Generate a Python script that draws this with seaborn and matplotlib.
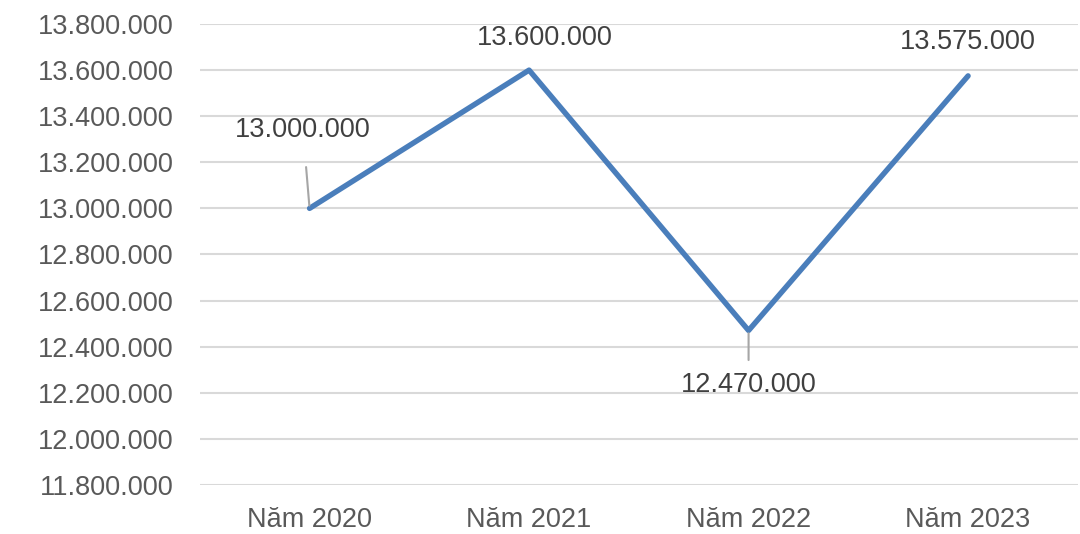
import pandas as pd
import matplotlib
matplotlib.use("Agg")
import matplotlib.pyplot as plt
from matplotlib.ticker import FuncFormatter, MultipleLocator
import seaborn as sns

years = ["Năm 2020", "Năm 2021", "Năm 2022", "Năm 2023"]
values = [13000000, 13600000, 12470000, 13575000]


def dot_fmt(v, pos=None):
    return f"{int(round(v)):,}".replace(",", ".")


sns.set_theme(style="white")
plt.rcParams["font.family"] = ["Liberation Sans", "DejaVu Sans"]

df = pd.DataFrame({"year": years, "value": values})

fig = plt.figure(figsize=(10.8, 5.34), dpi=100)
ax = fig.add_axes([0.185, 0.092, 0.813, 0.863])

ax.yaxis.set_major_locator(MultipleLocator(200000))
ax.grid(axis="y", color="#d9d9d9", linewidth=1.5)
ax.set_axisbelow(True)

sns.lineplot(data=df, x="year", y="value", ax=ax, color="#4a7ebb",
             linewidth=3.9, sort=False)
for ln in ax.lines:
    ln.set_solid_joinstyle("round")
    ln.set_solid_capstyle("round")

ax.set_xlim(-0.5, 3.5)
ax.set_ylim(11800000, 13800000)
ax.yaxis.set_major_formatter(FuncFormatter(dot_fmt))
ax.set_xlabel("")
ax.set_ylabel("")
for s in ax.spines.values():
    s.set_visible(False)
ax.tick_params(axis="both", length=0, labelsize=19.5, colors="#595959")
ax.tick_params(axis="y", pad=19)
ax.tick_params(axis="x", pad=16)

# text position and leader gap for each data label
label_pos = [(-0.03, 13340000), (1.07, 13740000), (2.0, 12235000), (3.0, 13722000)]
leader_gap = [15, None, 6, None]
for i, (v, (tx, ty), gap) in enumerate(zip(values, label_pos, leader_gap)):
    arrow = None
    if gap is not None:
        arrow = dict(arrowstyle="-", color="#a6a6a6", lw=1.5,
                     shrinkA=gap, shrinkB=2)
    ax.annotate(dot_fmt(v), xy=(i, v), xytext=(tx, ty),
                textcoords="data", ha="center", va="center",
                fontsize=19.5, color="#404040", arrowprops=arrow)

fig.savefig("out.png", dpi=100)
